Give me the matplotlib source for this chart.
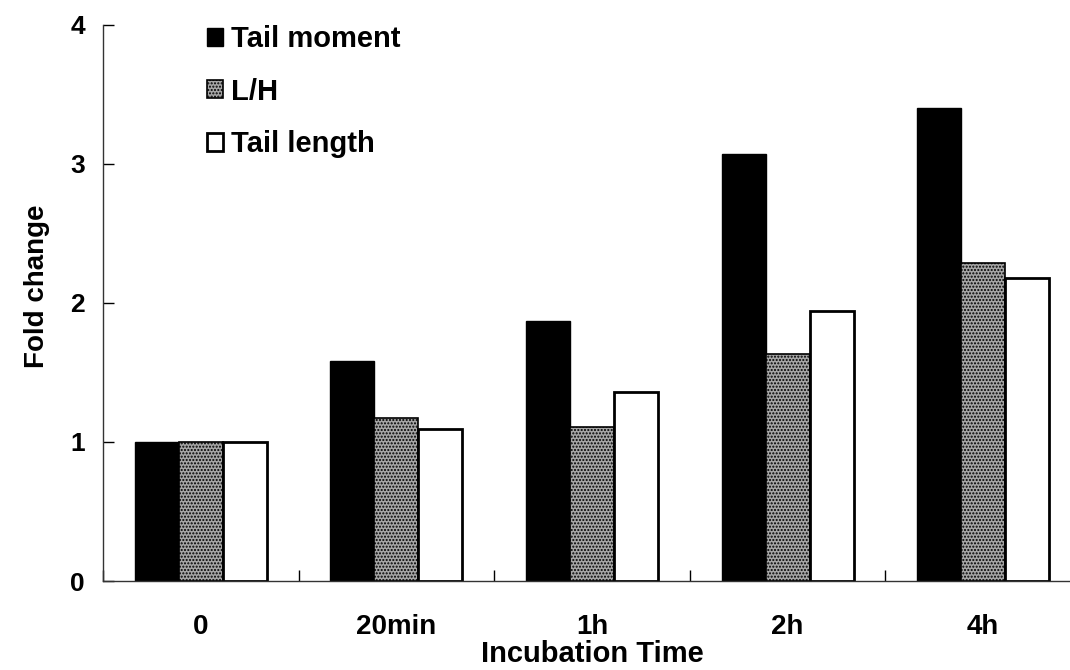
import numpy as np
import matplotlib.pyplot as plt

plt.rcParams['font.family'] = ['Liberation Sans', 'DejaVu Sans']
plt.rcParams['font.weight'] = 'bold'
plt.rcParams['hatch.linewidth'] = 1.0

# Data
times = ['0', '20min', '1h', '2h', '4h']
tail_moment = [1.00, 1.58, 1.87, 3.07, 3.40]
lh_ratio = [1.00, 1.17, 1.11, 1.63, 2.29]
tail_length = [1.00, 1.09, 1.36, 1.94, 2.18]

fig = plt.figure(figsize=(10.7, 6.7), dpi=100)
# axes runs a bit past the right edge, like the original
ax = fig.add_axes([0.0963, 0.1328, 0.914, 0.830])

x = np.arange(len(times))
w = 0.225
ax.bar(x - w, tail_moment, w, color='black', edgecolor='black',
       linewidth=1, label='Tail moment')
ax.bar(x, lh_ratio, w, color='#a6a6a6', edgecolor='black', hatch='.....',
       linewidth=1.2, label='L/H')
ax.bar(x + w, tail_length, w, color='white', edgecolor='black',
       linewidth=2, label='Tail length')

ax.set_xlim(-0.5, len(times) - 0.5)
ax.set_ylim(0, 4)
ax.set_yticks([0, 1, 2, 3, 4])

# category labels at centres, tick marks at the boundaries
ax.set_xticks(x)
ax.set_xticklabels(times)
ax.set_xticks(np.arange(len(times) + 1) - 0.5, minor=True)
ax.tick_params(axis='x', which='major', length=0, pad=24, labelsize=20)
ax.tick_params(axis='x', which='minor', direction='in', length=8, width=1)
ax.tick_params(axis='y', direction='in', length=8, width=1, pad=13, labelsize=19)

for s in ['top', 'right']:
    ax.spines[s].set_visible(False)
for s in ['left', 'bottom']:
    ax.spines[s].set_linewidth(1)
    ax.spines[s].set_color('#333333')

ax.set_xlabel('Incubation Time', fontsize=21, fontweight='bold', labelpad=0)
ax.set_ylabel('Fold change', fontsize=20, fontweight='bold')
ax.yaxis.set_label_coords(-0.054, 0.53)

ax.legend(loc='upper left', bbox_to_anchor=(0.091, 1.026), frameon=False,
          fontsize=21, handlelength=0.55, handleheight=0.55, borderpad=0,
          handletextpad=0.3, labelspacing=0.84)

fig.savefig('out.png', dpi=100)
